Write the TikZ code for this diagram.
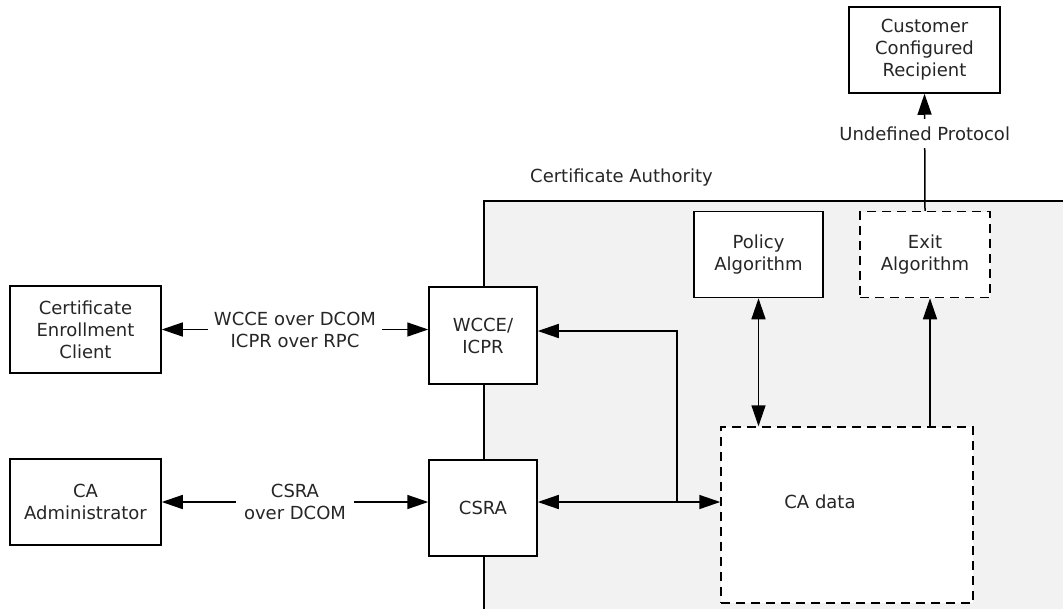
\documentclass[tikz,border=0pt]{standalone}
\usepackage{fontspec}
\setmainfont{DejaVu Sans}
\usetikzlibrary{arrows.meta}
\definecolor{cabg}{HTML}{F2F2F2}
\definecolor{txt}{HTML}{262626}
\begin{document}
\begin{tikzpicture}[x=1pt,y=-1pt,
  box/.style={draw=black, line width=1.5pt, fill=white, inner sep=0pt, align=center,
    text=txt, font=\fontsize{18}{22}\selectfont},
  dbox/.style={box, dash pattern=on 9pt off 6pt},
  lbl/.style={text=txt, font=\fontsize{18}{22}\selectfont, align=center, inner sep=3pt},
  conn/.style={line width=1.5pt, draw=black},
  tp/.tip={Triangle[length=21pt,width=14pt]}
]
\useasboundingbox (0,0) rectangle (1063,608);
% Certificate Authority region
\node[draw=black, line width=1.5pt, fill=cabg, anchor=north west, minimum width=600pt, minimum height=420pt, inner sep=0pt] (ca) at (483,200) {};
\node[lbl, anchor=west] (calbl) at (527,178) {Certificate Authority};

\node[box, minimum width=151pt, minimum height=86pt] (rec) at (924.5,50) {Customer\\Configured\\Recipient};
\node[box, minimum width=129pt, minimum height=86pt] (policy) at (758.5,254.5) {Policy\\Algorithm};
\node[dbox, minimum width=130pt, minimum height=86pt] (exit) at (925,254.5) {Exit\\Algorithm};
\node[box, minimum width=108pt, minimum height=97pt] (wcce) at (483,335.5) {WCCE/\\ICPR};
\node[box, minimum width=108pt, minimum height=96pt] (csra) at (483,508) {CSRA};
\node[box, minimum width=151pt, minimum height=87pt] (client) at (85.5,329.5) {Certificate\\Enrollment\\Client};
\node[box, minimum width=151pt, minimum height=86pt] (admin) at (85.5,502) {CA\\Administrator};
\node[dbox, minimum width=252pt, minimum height=176pt] (cadata) at (847,515) {};
\node[lbl] (cadatalbl) at (820,502) {CA data};

% connectors
\draw[conn, tp-tp] (client.east) -- (client.east -| wcce.west)
  node[lbl, midway, fill=white, inner xsep=6pt] (l1) {WCCE over DCOM\\ICPR over RPC};
\draw[conn, tp-tp] (admin.east) -- (admin.east -| csra.west)
  node[lbl, midway, fill=white, inner xsep=8pt] (l2) {CSRA\\over DCOM};
\coordinate (j) at (677,502);
\draw[conn, tp-tp] (csra.east |- j) -- (cadata.west |- j);
\draw[conn, -tp] (j) -- (677,331) -- (wcce.east |- 0,331);
\draw[conn, tp-tp] (policy.south) -- (policy.south |- cadata.north);
\coordinate (ex) at (930,0);
\draw[conn, -tp] (ex |- cadata.north) -- (ex |- exit.south);
\draw[conn, -tp] (exit.north) -- (rec.south)
  node[lbl, pos=0.66, fill=white, inner ysep=8pt] (l3) {Undefined Protocol};
\end{tikzpicture}
\end{document}
